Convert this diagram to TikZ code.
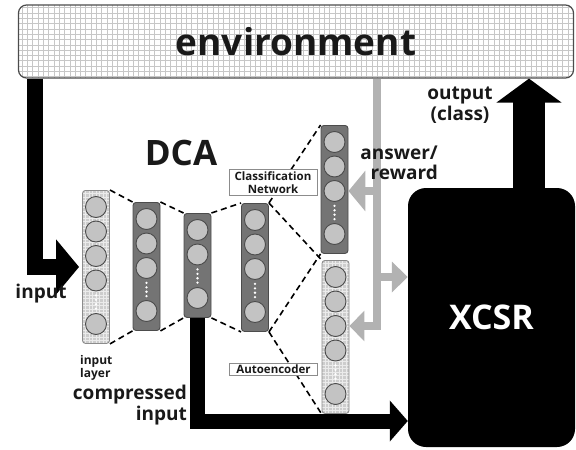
\documentclass[tikz,border=0pt]{standalone}
\usepackage{fontspec}
\setmainfont{Open Sans}
\usetikzlibrary{arrows.meta,positioning}

\definecolor{barDark}{HTML}{747474}
\definecolor{barLight}{HTML}{CDCDCD}
\definecolor{unitFill}{HTML}{C3C3C3}
\definecolor{fbGray}{HTML}{B2B2B2}

\begin{document}
\begin{tikzpicture}[
    x=1pt, y=-1pt,
    every node/.style={font=\bfseries, text=black!90},
    laybox/.style={draw=black!70, line width=0.9pt, rounded corners=3pt, minimum width=27pt, inner sep=0pt, anchor=north},
    darkbar/.style={laybox, fill=barDark},
    lightbar/.style={laybox, draw=black!45, fill=barLight, path picture={\draw[white!60!barLight, line width=0.4pt, step=3.5pt] (path picture bounding box.south west) grid (path picture bounding box.north east);}},
    neuron/.style={circle, draw=black!70, line width=0.9pt, fill=unitFill, minimum size=21pt, inner sep=0pt},
    tag/.style={draw=black!45, fill=white, line width=0.9pt, font=\fontsize{11.5}{13}\selectfont\bfseries, align=center, minimum width=88pt, inner sep=2pt},
    lbl/.style={font=\fontsize{19}{20.5}\selectfont\bfseries, inner sep=0pt},
    link/.style={line width=1.6pt, dash pattern=on 6pt off 4pt},
    bigarrow/.style={line width=16pt, -{Triangle[length=23pt, width=54pt]}},
    feedback/.style={draw=fbGray, line width=8pt}
]
    \useasboundingbox (0,0) rectangle (576,450);

    % Environment
    \node[draw=black!70, line width=1.2pt, rounded corners=8pt, fill=white,
          minimum width=555pt, minimum height=73pt, inner sep=0pt,
          path picture={\draw[black!22, line width=0.45pt, step=5.3pt] (path picture bounding box.south west) grid (path picture bounding box.north east);},
          font=\fontsize{37}{40}\selectfont\bfseries] (env) at (296,41.5) {environment};

    % XCSR
    \node[fill=black, rounded corners=18pt, minimum width=167pt, minimum height=259pt,
          text=white, font=\fontsize{34}{36}\selectfont\bfseries] (xcsr) at (491.5,317.5) {XCSR};

    % Layers of the DCA (name/x/top/height/units before the dots/look)
    \foreach \name/\cx/\ytop/\len/\n/\kind in {
        inl/96/190/153/4/lightbar, enc/146.5/202/128/3/darkbar,
        code/197.5/213/104/2/darkbar, dec/255/203/128/3/darkbar,
        cls/334.5/125/128/3/darkbar, rec/335.5/260/153/4/lightbar}{
        \node[\kind, minimum height=\len pt] (\name) at (\cx,\ytop) {};
        \foreach \k in {1,...,\n}
            \node[neuron] (\name-\k) at (\cx,{\ytop+17+24.5*(\k-1)}) {};
        \node[neuron] (\name-last) at (\cx,{\ytop+\len-19}) {};
        \foreach \dd in {-6.6,-2.2,2.2,6.6}
            \fill[white] (\cx,{\ytop+14+24.5*\n+\dd}) circle (1.3pt);
    }

    % Dashed links between layers
    \foreach \a/\b in {inl/enc, enc/code, code/dec, dec/cls, dec/rec} {
        \draw[link] (\a.north east) -- (\b.north west);
        \draw[link] (\a.south east) -- (\b.south west);
    }

    % Tags
    \node[tag] (clstag) at (273,182.5) {Classification\\Network};
    \node[tag] (aetag) at (273.5,369.5) {Autoencoder};

    % Black arrows
    \coordinate (inx) at (34.5,100);
    \coordinate (outx) at (529,100);
    \coordinate (cy) at (300,421);
    \draw[bigarrow, shorten >=3pt] (env.south -| inx) |- (inl.west);
    \draw[bigarrow, line width=32pt, -{Triangle[length=24pt, width=64pt]}] (xcsr.north -| outx) -- (env.south -| outx);
    \draw[bigarrow, line width=15pt, -{Triangle[length=18pt, width=40pt]}] (code.south) |- (xcsr.west |- cy);

    % Answer / reward (gray)
    \coordinate (fbx) at (377,100);
    \draw[feedback, -{Triangle[length=15pt, width=30pt]}, fbGray] (env.south -| fbx) |- (rec.east |- rec-3);
    \draw[feedback, -{Triangle[length=17pt, width=40pt]}, fbGray] (fbx |- cls-3) -- (cls.east |- cls-3);
    \draw[feedback, -{Triangle[length=16pt, width=30pt]}, fbGray] (fbx |- rec-1) -- (xcsr.west |- rec-1);

    % Labels
    \node[font=\fontsize{35}{38}\selectfont\bfseries] (dca) at (181,153) {DCA};
    \node[lbl, align=center] (outlbl) at (460,105) {output\\(class)};
    \node[lbl, align=right, anchor=east] (fblbl) at (438,163) {answer/\\reward};
    \node[lbl] (inlbl) at (41,294) {input};
    \node[align=left, anchor=west, inner sep=0pt, font=\fontsize{12}{13}\selectfont\bfseries] (lyrlbl) at (80,368) {input\\layer};
    \node[lbl, align=right, anchor=east] (cinlbl) at (187,405) {compressed\\input};

\end{tikzpicture}
\end{document}
